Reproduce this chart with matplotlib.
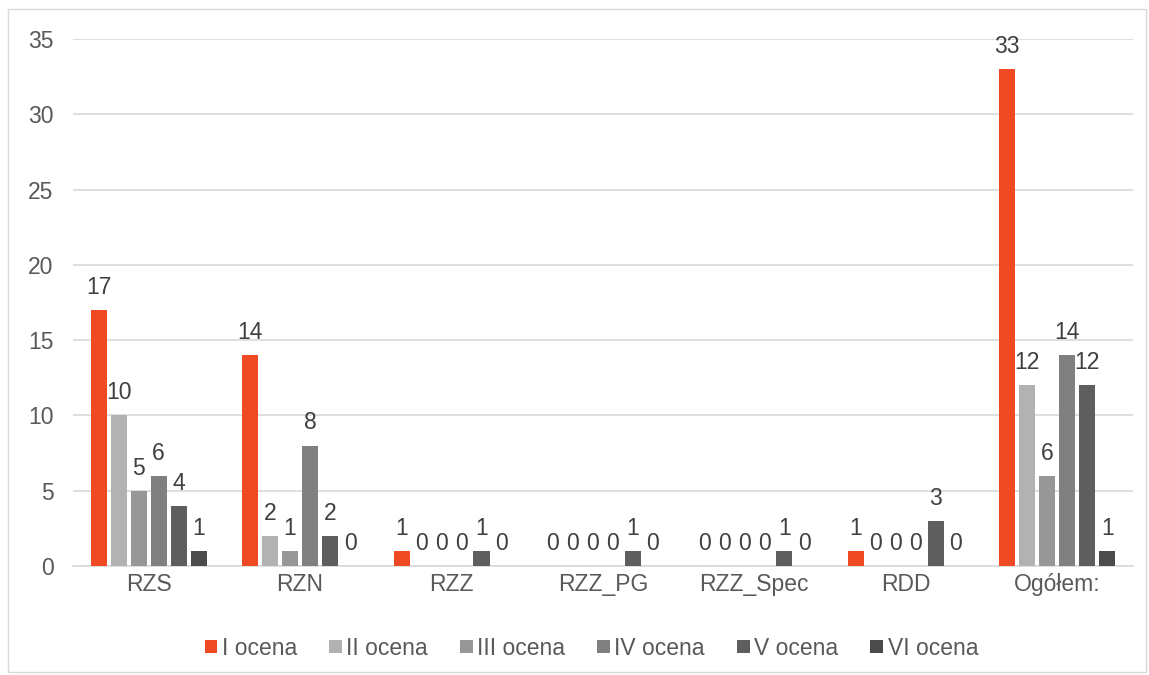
import numpy as np
import matplotlib.pyplot as plt
from matplotlib.patches import Rectangle

categories = ["RZS", "RZN", "RZZ", "RZZ_PG", "RZZ_Spec", "RDD", "Ogółem:"]
series_names = ["I ocena", "II ocena", "III ocena", "IV ocena", "V ocena", "VI ocena"]
ocena_1 = [17, 14, 1, 0, 0, 1, 33]
ocena_2 = [10, 2, 0, 0, 0, 0, 12]
ocena_3 = [5, 1, 0, 0, 0, 0, 6]
ocena_4 = [6, 8, 0, 0, 0, 0, 14]
ocena_5 = [4, 2, 1, 1, 1, 3, 12]
ocena_6 = [1, 0, 0, 0, 0, 0, 1]
values = [ocena_1, ocena_2, ocena_3, ocena_4, ocena_5, ocena_6]
colors = ['#F04A25', '#B2B2B2', '#979797', '#808080', '#5E5E5E', '#4B4B4B']

plt.rcParams['font.family'] = ['Liberation Sans', 'DejaVu Sans']
text_color = '#595959'
fs = 16.5

fig = plt.figure(figsize=(11.49, 6.75), dpi=100)
ax = fig.add_axes([0.0635, 0.1615, 0.9225, 0.7805])

# frame around the chart
fig.patches.append(Rectangle((0.007, 0.004), 0.99, 0.982, transform=fig.transFigure,
                             fill=False, edgecolor='#D9D9D9', linewidth=1))

x = np.arange(len(categories))
step = 0.132
width = 0.106
for i, (name, vals) in enumerate(zip(series_names, values)):
    pos = x + (i - 2.5) * step
    bars = ax.bar(pos, vals, width=width, color=colors[i], label=name, zorder=3)
    for b, v in zip(bars, vals):
        ax.annotate(str(v), (b.get_x() + b.get_width() / 2, v), xytext=(0, 8),
                    textcoords='offset points', ha='center', va='bottom',
                    fontsize=fs, color='#404040')

ax.set_xlim(-0.5, len(categories) - 0.5)
ax.set_ylim(0, 35)
ax.set_yticks(range(0, 36, 5))
ax.yaxis.grid(True, color='#D9D9D9', linewidth=1.2, zorder=0)
ax.set_axisbelow(True)
for s in ['top', 'right', 'left']:
    ax.spines[s].set_visible(False)
ax.spines['bottom'].set_color('#D9D9D9')
ax.spines['bottom'].set_linewidth(1.2)
ax.set_xticks(x)
ax.set_xticklabels(categories)
ax.tick_params(axis='both', length=0, labelsize=fs, colors=text_color)
ax.tick_params(axis='x', pad=5)
ax.tick_params(axis='y', pad=14)

ax.legend(loc='upper center', bbox_to_anchor=(0.489, -0.095), ncol=6, frameon=False,
          fontsize=fs, handlelength=0.55, handleheight=0.55, handletextpad=0.2,
          columnspacing=1.4, labelcolor=text_color)

plt.savefig('out.png')
